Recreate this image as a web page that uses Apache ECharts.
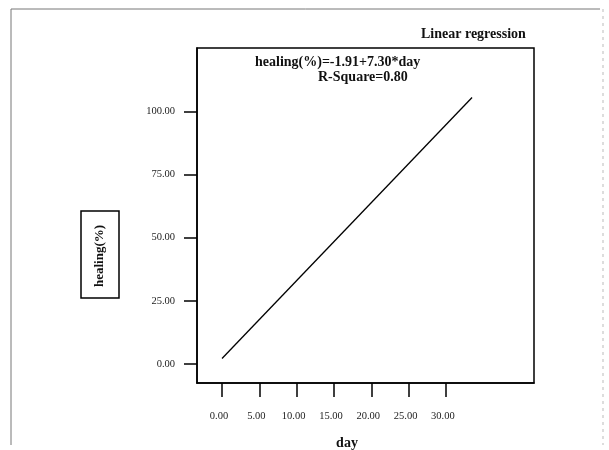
<!DOCTYPE html>
<html>
<head>
<meta charset="utf-8">
<script src="https://cdn.jsdelivr.net/npm/echarts@6/dist/echarts.min.js"></script>
<style>html,body{margin:0;padding:0;background:#fff}#c{width:609px;height:450px}</style>
</head>
<body>
<div id="c"></div>
<script>
// Data
const xTicks = [0, 5, 10, 15, 20, 25, 30];
const yTicks = [0, 25, 50, 75, 100];
const lineDays = [0, 33.5];
const lineHealing = [2.2, 105.5];
const titleText = 'Linear regression';
const formulaText = 'healing(%)=-1.91+7.30*day';
const rsqText = 'R-Square=0.80';
const xName = 'day';
const yName = 'healing(%)';

const serif = '"Liberation Serif", "DejaVu Serif", serif';
const chart = echarts.init(document.getElementById('c'), null, {renderer: 'canvas'});
chart.setOption({
  animation: false,
  backgroundColor: '#fff',
  grid: {left: 197, top: 48, right: 75, bottom: 67, show: true, borderColor: '#000', borderWidth: 1.5, backgroundColor: 'transparent'},
  xAxis: {
    type: 'value', min: -3.35, max: 41.8,
    axisLine: {show: true, onZero: false, lineStyle: {color: '#000', width: 1.5}},
    axisTick: {show: true, inside: false, length: 14, lineStyle: {color: '#000', width: 1.5}, customValues: xTicks},
    axisLabel: {customValues: xTicks, margin: 28, color: '#222', fontFamily: serif, fontSize: 10.5, padding: [0, 6, 0, 0], formatter: v => v.toFixed(2)},
    splitLine: {show: false}
  },
  yAxis: {
    type: 'value', min: -7.5, max: 125.1,
    axisLine: {show: true, onZero: false, lineStyle: {color: '#000', width: 1.5}},
    axisTick: {show: true, inside: false, length: 13, lineStyle: {color: '#000', width: 1.5}, customValues: yTicks},
    axisLabel: {customValues: yTicks, margin: 22, color: '#222', fontFamily: serif, fontSize: 10.5, padding: [0, 0, 6, 0], formatter: v => v.toFixed(2)},
    splitLine: {show: false}
  },
  series: [{
    type: 'line',
    data: lineDays.map((d, i) => [d, lineHealing[i]]),
    showSymbol: false,
    lineStyle: {color: '#000', width: 1.3},
    silent: true
  }],
  graphic: [
    {type: 'polyline', shape: {points: [[11, 445], [11, 9], [600, 9]]}, style: {stroke: '#777', lineWidth: 1, fill: null}},
    {type: 'line', shape: {x1: 603, y1: 9, x2: 603, y2: 445}, style: {stroke: '#bbb', lineWidth: 1, lineDash: [3, 4]}},
    {type: 'text', left: 421, top: 27, style: {text: titleText, font: 'bold 14px ' + serif, fill: '#111'}},
    {type: 'text', left: 255, top: 55, style: {text: formulaText, font: 'bold 14px ' + serif, fill: '#111'}},
    {type: 'text', left: 318, top: 70, style: {text: rsqText, font: 'bold 14px ' + serif, fill: '#111'}},
    {type: 'text', x: 347, y: 443, style: {text: xName, font: 'bold 14px ' + serif, fill: '#111', align: 'center', verticalAlign: 'middle'}},
    {type: 'rect', shape: {x: 81, y: 211, width: 38, height: 87}, style: {stroke: '#000', lineWidth: 1.5, fill: null}},
    {type: 'text', x: 100, y: 256, rotation: Math.PI / 2, style: {text: yName, font: 'bold 13px ' + serif, fill: '#111', align: 'center', verticalAlign: 'middle'}}
  ]
});
</script>
</body>
</html>
